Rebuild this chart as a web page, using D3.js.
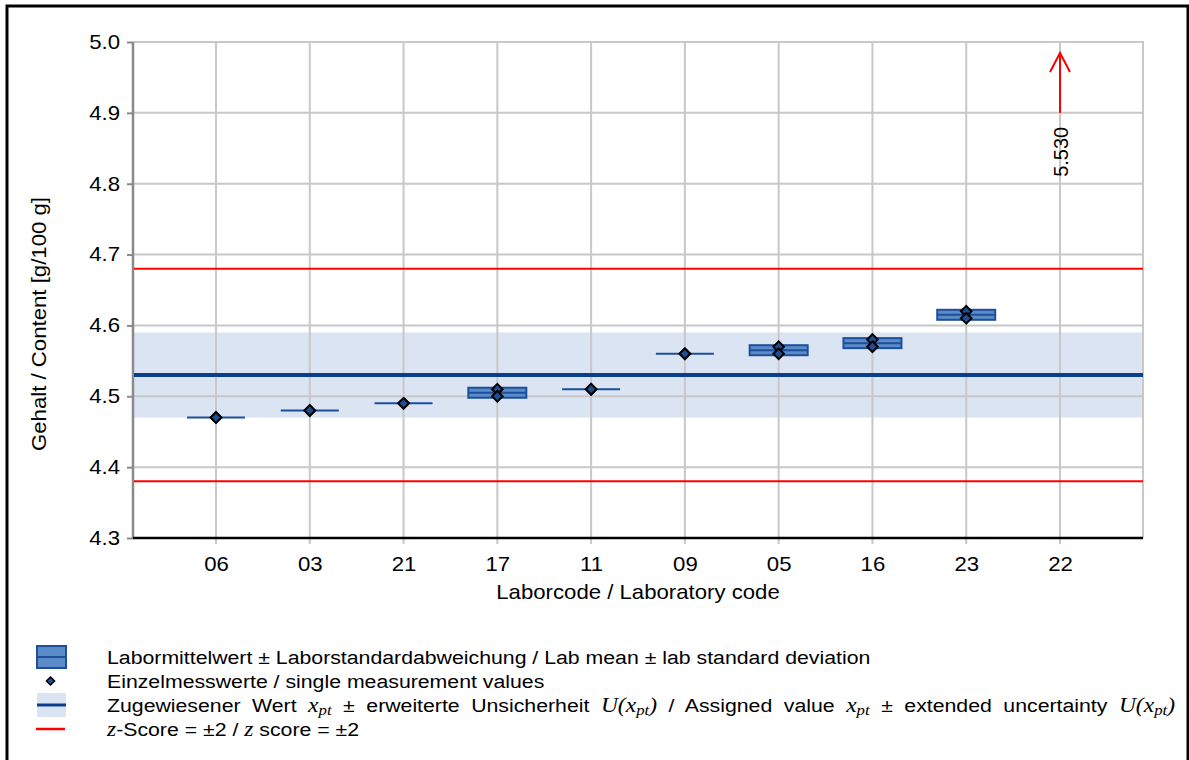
<!DOCTYPE html>
<html>
<head>
<meta charset="utf-8">
<script src="https://cdn.jsdelivr.net/npm/d3@7"></script>
<style>
  body { margin: 0; background: #fff; }
  svg { display: block; }
  text { font-family: "Liberation Sans", Arial, sans-serif; fill: #000; }
  .math { font-family: "Liberation Serif", "DejaVu Serif", serif; font-style: italic; }
</style>
</head>
<body>
<svg id="chart" width="1189" height="760"></svg>
<script>
// Proficiency test results: fat content per laboratory
const labCodes     = ["06", "03", "21", "17", "11", "09", "05", "16", "23", "22"];
const firstValues  = [4.47, 4.48, 4.49, 4.51, 4.51, 4.56, 4.57, 4.58, 4.62, 5.53];
const secondValues = [4.47, 4.48, 4.49, 4.50, 4.51, 4.56, 4.56, 4.57, 4.61, 5.53];
const assignedValue = 4.53;       // x_pt
const expandedUncertainty = 0.06; // U(x_pt)
const zLimits = [4.38, 4.68];     // z-score = ±2
const yTicks = [4.3, 4.4, 4.5, 4.6, 4.7, 4.8, 4.9, 5.0];

const svg = d3.select("#chart");
const plot = { left: 133, right: 1143, top: 42, bottom: 538 };
const sx = 1.12;   // horizontal widening of the sans text
const axisFs = 19.8;

const x = d3.scalePoint().domain(labCodes).range([plot.left, plot.right]).padding(0.885);
const y = d3.scaleLinear().domain([4.3, 5.0]).range([plot.bottom, plot.top]);
const yMax = y.domain()[1];

const labs = labCodes.map((code, i) => {
  const vals = [firstValues[i], secondValues[i]];
  return { code, vals, mean: d3.mean(vals), sd: d3.deviation(vals) };
});

// outer frame
svg.append("path")
  .attr("d", "M7,770 V6 H1188 V770")
  .attr("fill", "none").attr("stroke", "#000").attr("stroke-width", 3);

// uncertainty band of the assigned value
svg.append("rect")
  .attr("x", plot.left).attr("width", plot.right - plot.left)
  .attr("y", y(assignedValue + expandedUncertainty))
  .attr("height", y(assignedValue - expandedUncertainty) - y(assignedValue + expandedUncertainty))
  .attr("fill", "#dae4f2");

// gridlines
const grid = svg.append("g").attr("stroke", "#c8c8c8").attr("stroke-width", 2);
grid.selectAll("line.h").data(yTicks.slice(1)).join("line").attr("class", "h")
  .attr("x1", plot.left).attr("x2", plot.right)
  .attr("y1", d => y(d)).attr("y2", d => y(d));
grid.selectAll("line.v").data(labCodes).join("line").attr("class", "v")
  .attr("x1", d => x(d)).attr("x2", d => x(d))
  .attr("y1", plot.top).attr("y2", plot.bottom + 6);
grid.append("line")
  .attr("x1", plot.right).attr("x2", plot.right)
  .attr("y1", plot.top - 1).attr("y2", plot.bottom);

// y axis
const yAxis = svg.append("g").attr("transform", `translate(${plot.left},0)`)
  .call(d3.axisLeft(y).tickValues(yTicks).tickFormat(d3.format(".1f")).tickSize(6).tickPadding(6));
yAxis.select(".domain").attr("stroke", "#8a8a8a").attr("stroke-width", 2.5)
  .attr("d", `M0,${plot.top}V${plot.bottom}`);
yAxis.selectAll(".tick line").attr("stroke", "#8a8a8a").attr("stroke-width", 2);
yAxis.selectAll(".tick text").attr("font-size", axisFs).attr("fill", "#000")
  .attr("x", -13 / sx).attr("transform", `scale(${sx},1)`)
  .style("font-family", '"Liberation Sans", Arial, sans-serif');

// x axis
const xAxis = svg.append("g").attr("transform", `translate(0,${plot.bottom})`)
  .call(d3.axisBottom(x).tickSize(0).tickPadding(19));
xAxis.select(".domain").attr("stroke", "#000").attr("stroke-width", 2.5)
  .attr("d", `M${plot.left},0H${plot.right}`);
xAxis.selectAll(".tick text").attr("font-size", axisFs).attr("fill", "#000")
  .attr("transform", `scale(${sx},1)`)
  .style("font-family", '"Liberation Sans", Arial, sans-serif');

// z-score limits
svg.selectAll("line.z").data(zLimits).join("line").attr("class", "z")
  .attr("x1", plot.left + 1).attr("x2", plot.right)
  .attr("y1", d => y(d)).attr("y2", d => y(d))
  .attr("stroke", "#ff0000").attr("stroke-width", 2);

// assigned value
svg.append("line")
  .attr("x1", plot.left + 1).attr("x2", plot.right)
  .attr("y1", y(assignedValue)).attr("y2", y(assignedValue))
  .attr("stroke", "#0b3f8e").attr("stroke-width", 4);

// lab mean ± standard deviation
const boxW = 58;
const onScale = labs.filter(d => d.mean <= yMax);
const boxes = svg.append("g");
onScale.forEach(d => {
  const g = boxes.append("g");
  if (d.sd > 0) {
    g.append("rect")
      .attr("x", x(d.code) - boxW / 2).attr("width", boxW)
      .attr("y", y(d.mean + d.sd)).attr("height", y(d.mean - d.sd) - y(d.mean + d.sd))
      .attr("fill", "#5b8cc9").attr("stroke", "#1d4f9a").attr("stroke-width", 2);
  }
  g.append("line")
    .attr("x1", x(d.code) - boxW / 2).attr("x2", x(d.code) + boxW / 2)
    .attr("y1", y(d.mean)).attr("y2", y(d.mean))
    .attr("stroke", "#1d4f9a").attr("stroke-width", 2);
});

// single measurement values
const diamond = d3.symbol().type(d3.symbolDiamond2).size(72);
svg.append("g").selectAll("path")
  .data(onScale.flatMap(d => d.vals.map(v => ({ code: d.code, v }))))
  .join("path")
  .attr("d", diamond)
  .attr("transform", d => `translate(${x(d.code)},${y(d.v)})`)
  .attr("fill", "#1f4f93").attr("stroke", "#000").attr("stroke-width", 2);

// off-scale lab: arrow with value label
labs.filter(d => d.mean > yMax).forEach(d => {
  const cx = x(d.code);
  const tipY = y(yMax) + 11;
  const g = svg.append("g").attr("stroke", "#ff0000").attr("stroke-width", 2).attr("fill", "none");
  g.append("line").attr("x1", cx).attr("x2", cx).attr("y1", y(4.9)).attr("y2", tipY);
  g.append("path").attr("d", `M${cx - 10},${tipY + 19}L${cx},${tipY}L${cx + 10},${tipY + 19}`);
  svg.append("text")
    .attr("transform", `translate(${cx + 8},${y(4.845)}) rotate(-90)`)
    .attr("text-anchor", "middle").attr("font-size", 20)
    .text(d3.format(".3f")(d.mean));
});

// axis titles
svg.append("text")
  .attr("transform", `translate(46,324) rotate(-90) scale(${sx},1)`)
  .attr("text-anchor", "middle").attr("font-size", axisFs)
  .text("Gehalt / Content [g/100 g]");
svg.append("text")
  .attr("transform", `translate(${(plot.left + plot.right) / 2},599) scale(${sx},1)`)
  .attr("text-anchor", "middle").attr("font-size", axisFs)
  .text("Laborcode / Laboratory code");

// legend
const lg = svg.append("g");
const iconX = 37, iconW = 29, textX = 107, fs = 19;
const rowY = [657, 681, 705, 729];

lg.append("rect").attr("x", iconX).attr("y", rowY[0] - 11).attr("width", iconW).attr("height", 22)
  .attr("fill", "#5b8cc9").attr("stroke", "#1d4f9a").attr("stroke-width", 2);
lg.append("line").attr("x1", iconX).attr("x2", iconX + iconW).attr("y1", rowY[0]).attr("y2", rowY[0])
  .attr("stroke", "#1d4f9a").attr("stroke-width", 2);
lg.append("path").attr("d", d3.symbol().type(d3.symbolDiamond2).size(42))
  .attr("transform", `translate(${iconX + iconW / 2 - 1},${rowY[1]})`)
  .attr("fill", "#1f4f93").attr("stroke", "#000").attr("stroke-width", 1.5);
lg.append("rect").attr("x", iconX).attr("y", rowY[2] - 12).attr("width", iconW).attr("height", 24)
  .attr("fill", "#dae4f2");
lg.append("line").attr("x1", iconX).attr("x2", iconX + iconW).attr("y1", rowY[2]).attr("y2", rowY[2])
  .attr("stroke", "#0b3f8e").attr("stroke-width", 3);
lg.append("line").attr("x1", iconX - 1).attr("x2", iconX + iconW - 1).attr("y1", rowY[3]).attr("y2", rowY[3])
  .attr("stroke", "#ff0000").attr("stroke-width", 2.5);

function addRow(yc, parts, targetEnd) {
  const t = lg.append("text")
    .attr("transform", `translate(${textX},${yc}) scale(${sx},1)`)
    .attr("dy", "0.35em").attr("font-size", fs);
  parts.forEach(p => {
    const s = t.append("tspan").text(p.t);
    if (p.m) s.attr("class", "math").attr("font-size", fs + 2);
    if (p.sub) s.attr("class", "math").attr("font-size", fs - 4).attr("baseline-shift", "-25%");
  });
  if (targetEnd) {
    const len = t.node().getComputedTextLength();
    const spaces = parts.map(p => p.t).join("").split(" ").length - 1;
    t.attr("word-spacing", ((targetEnd - textX) / sx - len) / spaces);
  }
  return t;
}
addRow(rowY[0], [{ t: "Labormittelwert ± Laborstandardabweichung / Lab mean ± lab standard deviation" }]);
addRow(rowY[1], [{ t: "Einzelmesswerte / single measurement values" }]);
addRow(rowY[2], [
  { t: "Zugewiesener Wert " }, { t: "x", m: 1 }, { t: "pt", sub: 1 },
  { t: " ± erweiterte Unsicherheit " }, { t: "U(x", m: 1 }, { t: "pt", sub: 1 }, { t: ")", m: 1 },
  { t: " / Assigned value " }, { t: "x", m: 1 }, { t: "pt", sub: 1 },
  { t: " ± extended uncertainty " }, { t: "U(x", m: 1 }, { t: "pt", sub: 1 }, { t: ")", m: 1 }
], 1175);
addRow(rowY[3], [
  { t: "z", m: 1 }, { t: "-Score = ±2 / " }, { t: "z", m: 1 }, { t: " score = ±2" }
]);
</script>
</body>
</html>
